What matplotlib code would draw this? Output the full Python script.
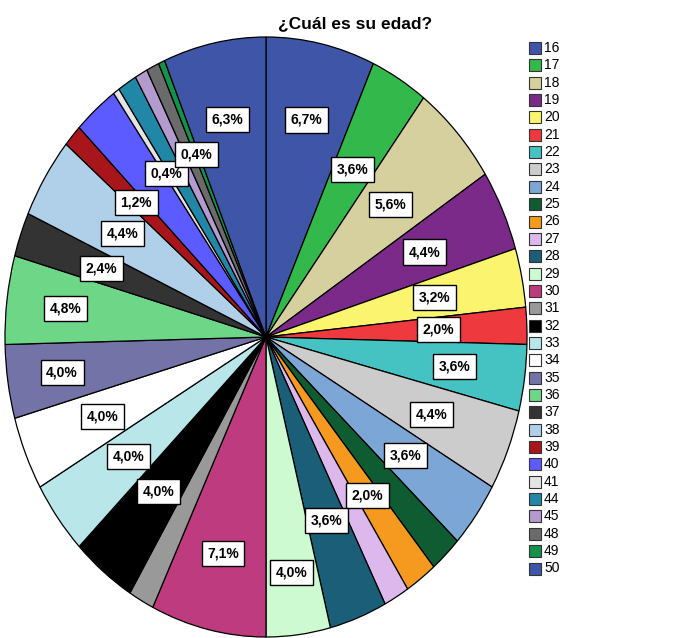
import numpy as np
import matplotlib.pyplot as plt

# ages and number of answers (N = 252)
ages = ['16', '17', '18', '19', '20', '21', '22', '23', '24', '25', '26', '27',
        '28', '29', '30', '31', '32', '33', '34', '35', '36', '37', '38', '39',
        '40', '41', '44', '45', '48', '49', '50']
counts = [17, 9, 14, 11, 8, 5, 9, 11, 9, 5, 5, 4,
          9, 10, 18, 4, 10, 10, 10, 10, 12, 6, 11, 3,
          7, 1, 3, 2, 2, 1, 16]
colors = ['#3f56a8', '#33b84b', '#d6cf9e', '#7b2a8a', '#fbf46e', '#ee3a3f',
          '#45c3c3', '#cccccc', '#7ba6d6', '#0f5c33', '#f59a1f', '#dcb8ec',
          '#1b5e77', '#cdfad0', '#bd3b7e', '#999999', '#000000', '#b9e6e8',
          '#ffffff', '#7373a8', '#6ed787', '#333333', '#b0d0ea', '#a8151b',
          '#5b5bff', '#e4e4e4', '#2187a6', '#b39bd0', '#6b6b6b', '#12934a',
          '#3f56a8']

# slices that get a percentage box, with the radius of the box
label_r = {'16': 0.74, '17': 0.65, '18': 0.65, '19': 0.67, '20': 0.66,
           '21': 0.66, '22': 0.73, '23': 0.685, '24': 0.665, '26': 0.655,
           '28': 0.655, '29': 0.79, '30': 0.74, '32': 0.66, '33': 0.66,
           '34': 0.68, '35': 0.79, '36': 0.775, '37': 0.67, '38': 0.65,
           '39': 0.67, '41': 0.665, '49': 0.665, '50': 0.74}

W, H = 688, 638
fig = plt.figure(figsize=(W / 100, H / 100), dpi=100)

# pie is drawn as an ellipse, like the SPSS output
cx, cy, rx, ry = 266, 337, 261, 300
ax = fig.add_axes([(cx - rx) / W, (H - cy - ry) / H, 2 * rx / W, 2 * ry / H])
wedges, _ = ax.pie(counts, colors=colors, startangle=90, counterclock=False,
                   wedgeprops=dict(edgecolor='black', linewidth=0.9))
ax.set_aspect('auto')
ax.set_xlim(-1, 1)
ax.set_ylim(-1, 1)
for w in wedges:
    w.set_clip_on(False)

total = sum(counts)
lab_font = ['Liberation Sans Narrow', 'Liberation Sans', 'DejaVu Sans']
for age, n, w in zip(ages, counts, wedges):
    if age not in label_r:
        continue
    mid = np.deg2rad((w.theta1 + w.theta2) / 2)
    r = label_r[age]
    txt = f'{n / total * 100:.1f}%'.replace('.', ',')
    ax.text(r * np.cos(mid), r * np.sin(mid), txt, ha='center', va='center',
            fontsize=10, fontweight='bold', family=lab_font,
            bbox=dict(boxstyle='square,pad=0.4', fc='white', ec='black', lw=1))

fig.text(355 / W, 1 - 24 / H, '¿Cuál es su edad?', ha='center', va='center',
         fontsize=12.5, fontweight='bold', family=['Liberation Sans', 'DejaVu Sans'])

# legend on the right
for i, (age, col) in enumerate(zip(ages, colors)):
    y = 48 + i * 17.35
    fig.add_artist(plt.Rectangle((529 / W, 1 - (y + 6) / H), 12 / W, 12 / H,
                                 transform=fig.transFigure, fc=col, ec='#333333', lw=0.8))
    fig.text(544 / W, 1 - y / H, age, ha='left', va='center', fontsize=10,
             family=lab_font)

plt.savefig('out.png', dpi=100)
